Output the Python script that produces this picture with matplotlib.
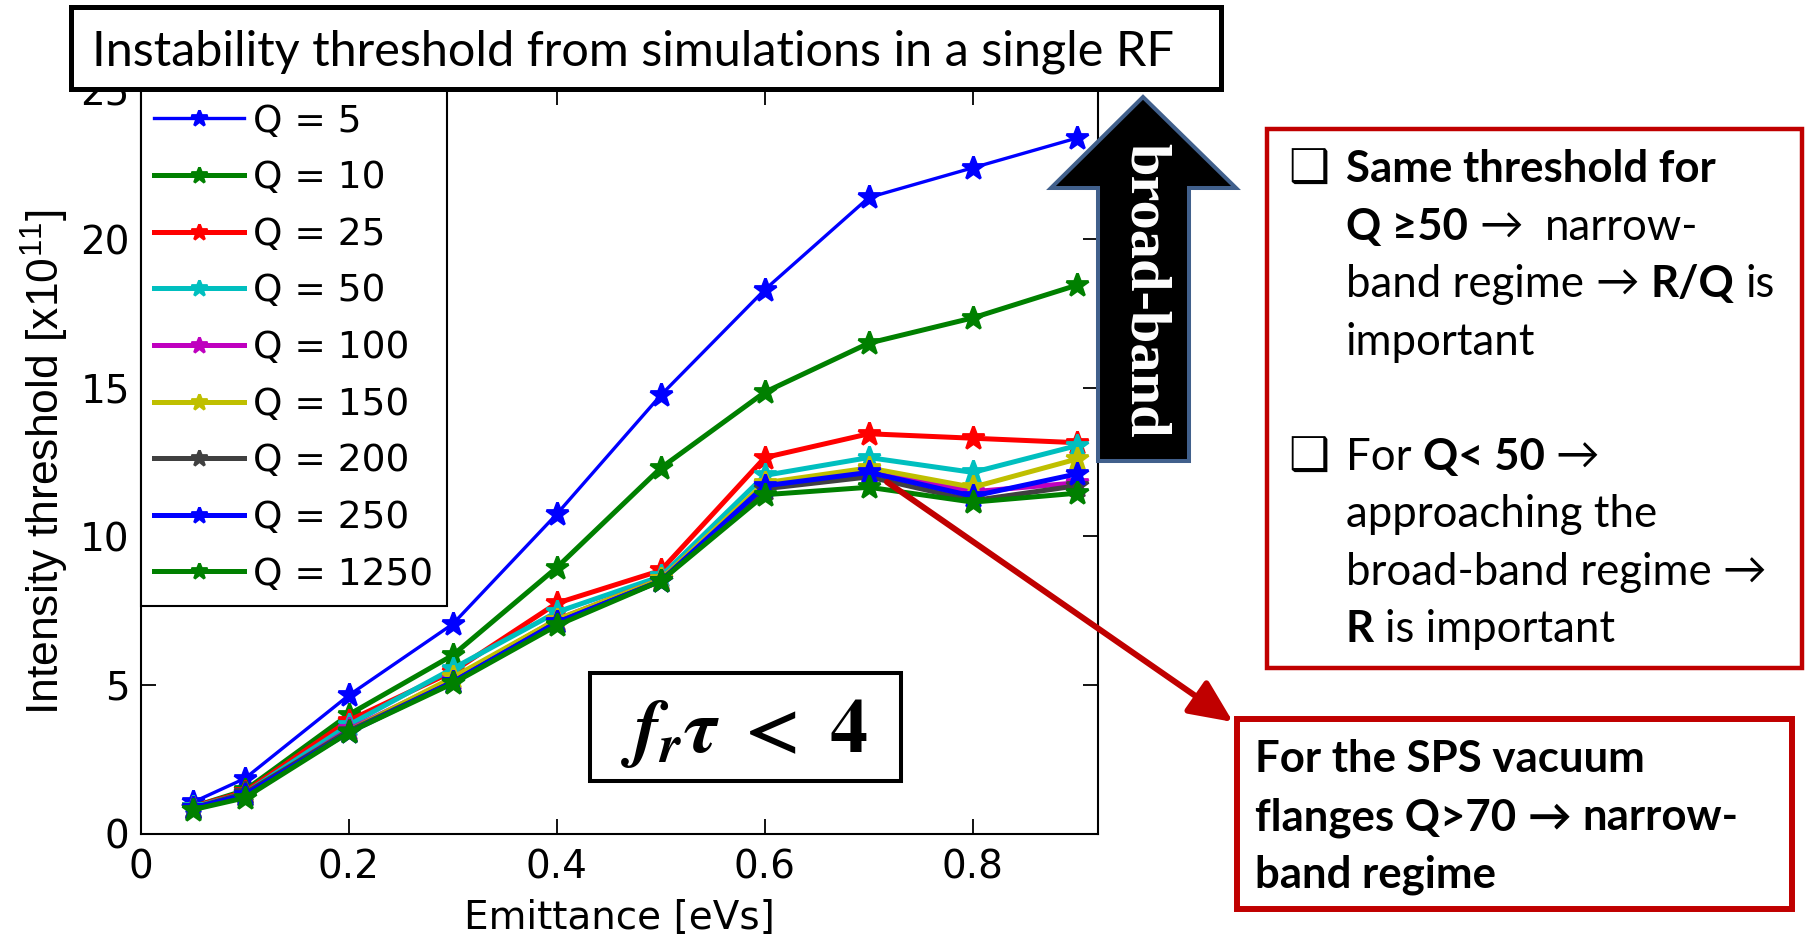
import matplotlib
matplotlib.use("Agg")
import matplotlib.pyplot as plt
from matplotlib.patches import Rectangle, Polygon, FancyArrowPatch

W, H = 1806, 938

# instability threshold [x1e11] vs emittance [eVs] for each resonator Q
emittance = [0.05, 0.1, 0.2, 0.3, 0.4, 0.5, 0.6, 0.7, 0.8, 0.9]
q_labels = ["Q = 5", "Q = 10", "Q = 25", "Q = 50", "Q = 100",
            "Q = 150", "Q = 200", "Q = 250", "Q = 1250"]
thr_q5 = [1.05, 1.85, 4.65, 7.05, 10.75, 14.75, 18.3, 21.4, 22.4, 23.4]
thr_q10 = [0.9, 1.45, 4.0, 6.0, 8.95, 12.3, 14.85, 16.5, 17.35, 18.45]
thr_q25 = [0.9, 1.4, 3.8, 5.45, 7.75, 8.85, 12.65, 13.45, 13.3, 13.15]
thr_q50 = [0.88, 1.35, 3.65, 5.55, 7.45, 8.65, 12.05, 12.65, 12.15, 13.05]
thr_q100 = [0.85, 1.3, 3.5, 5.2, 7.2, 8.55, 11.75, 12.2, 11.5, 11.8]
thr_q150 = [0.85, 1.3, 3.45, 5.25, 7.2, 8.55, 11.8, 12.3, 11.65, 12.6]
thr_q200 = [0.85, 1.35, 3.45, 5.1, 7.1, 8.5, 11.6, 12.0, 11.2, 11.7]
thr_q250 = [0.85, 1.3, 3.4, 5.1, 7.1, 8.5, 11.7, 12.15, 11.35, 12.1]
thr_q1250 = [0.8, 1.2, 3.4, 5.05, 7.0, 8.5, 11.4, 11.65, 11.15, 11.45]
thresholds = [thr_q5, thr_q10, thr_q25, thr_q50, thr_q100,
              thr_q150, thr_q200, thr_q250, thr_q1250]
colors = [(0, 0, 1), (0, 0.5, 0), (1, 0, 0), (0, 0.75, 0.75), (0.75, 0, 0.75),
          (0.75, 0.75, 0), (0.25, 0.25, 0.25), (0, 0, 1), (0, 0.5, 0)]

plt.rcParams["mathtext.fontset"] = "custom"
plt.rcParams["mathtext.it"] = "STIXGeneral:italic:bold"
plt.rcParams["mathtext.rm"] = "STIXGeneral:bold"
plt.rcParams["mathtext.bf"] = "STIXGeneral:bold"

SLIDE = ["Lato", "DejaVu Sans"]
DARKRED = "#C00000"


def fx(x):
    return x / W


def fy(y):
    return 1 - y / H


def box(x0, y0, x1, y1, ec, lw, fc="none", z=2):
    r = Rectangle((fx(x0), fy(y1)), (x1 - x0) / W, (y1 - y0) / H,
                  transform=fig.transFigure, fc=fc, ec=ec, lw=lw, zorder=z)
    fig.add_artist(r)


fig = plt.figure(figsize=(W / 100, H / 100), dpi=100)
ax = fig.add_axes([140.8 / W, 1 - 833.5 / H, (1097.7 - 140.8) / W, (833.5 - 90.5) / H])

for vals, lab, col in zip(thresholds, q_labels, colors):
    lw = 2.4 if lab == "Q = 5" else 3.6
    ax.plot(emittance, vals, "-*", color=col, lw=lw, ms=17, mew=2, label=lab)

ax.set_xlim(0, 0.92)
ax.set_ylim(0, 25)
ax.set_xticks([0, 0.2, 0.4, 0.6, 0.8])
ax.set_xticklabels(["0", "0.2", "0.4", "0.6", "0.8"])
ax.set_yticks([0, 5, 10, 15, 20, 25])
ax.tick_params(direction="in", length=11, width=1.3, top=True, right=True, labelsize=28)
ax.tick_params(axis="x", pad=11)
ax.tick_params(axis="y", pad=8)
for s in ax.spines.values():
    s.set_linewidth(1.5)
ax.set_xlabel("Emittance [eVs]", fontsize=28, labelpad=9)
ax.set_ylabel("Intensity threshold [x10$^{\\mathregular{11}}$]", fontsize=32,
              family="Liberation Sans")
ax.yaxis.set_label_coords(-0.074, 0.5)

leg = ax.legend(loc="upper left", bbox_to_anchor=(0, 1), borderaxespad=0, fontsize=27,
                fancybox=False, edgecolor="k", framealpha=1, labelspacing=0.55,
                handlelength=2.4, handletextpad=0.25, borderpad=0.35, markerscale=0.7)
leg.get_frame().set_linewidth(1.5)

# title box
box(71, 7, 1221, 89, "k", 3.6, fc="white", z=3)
fig.text(fx(92), fy(65), "Instability threshold from simulations in a single RF",
         fontsize=35, family=SLIDE, va="baseline", zorder=4)

# f_r tau < 4 condition
box(590, 673, 901, 781, "k", 2.9, fc="white", z=3)
fig.text(fx(744), fy(752), r"$f_r\tau\;<\;4$", fontsize=55, ha="center", va="baseline",
         zorder=4)

# broad-band arrow
arrow_pts = [(1143, 97), (1236, 188), (1189, 188), (1189, 461),
             (1098, 461), (1098, 188), (1051, 188)]
fig.add_artist(Polygon([(fx(x), fy(y)) for x, y in arrow_pts], closed=True,
                       transform=fig.transFigure, fc="black", ec="#41608C", lw=2.9,
                       zorder=3))
fig.text(fx(1145), fy(290), "broad-band", rotation=270, color="white",
         fontsize=42, fontweight="bold", family="Liberation Serif",
         ha="center", va="center", zorder=4)

# pointer from the Q > 50 cluster to the SPS note
fig.add_artist(FancyArrowPatch((fx(887), fy(482)), (fx(1233), fy(722)),
                               transform=fig.transFigure,
                               arrowstyle="-|>,head_length=1.1,head_width=0.5",
                               mutation_scale=24, color=DARKRED, lw=4.3,
                               shrinkA=0, shrinkB=0, zorder=5))

# red note boxes
box(1267, 129, 1802, 668, DARKRED, 3.2, fc="white", z=3)
box(1237, 719, 1792, 909, DARKRED, 4.3, fc="white", z=3)

renderer = fig.canvas.get_renderer()
TS = 31.5


def text_width(s, bold):
    t = fig.text(0, 0, s, fontsize=TS, family=SLIDE,
                 fontweight="bold" if bold else "normal")
    w = t.get_window_extent(renderer).width
    t.remove()
    return w


space = text_width("x x", False) - text_width("xx", False)


def rich_line(x, y, parts):
    cur = x
    for s, bold, gap in parts:
        cur += gap * space
        t = fig.text(fx(cur), fy(y), s, fontsize=TS, family=SLIDE, va="baseline",
                     fontweight="bold" if bold else "normal", zorder=4)
        cur += t.get_window_extent(renderer).width


upper_lines = [
    (182, [("Same threshold for", True, 0)]),
    (240, [("Q ≥50", True, 0), ("→", False, 1), ("narrow-", False, 2)]),
    (297, [("band regime", False, 0), ("→", False, 1), ("R/Q", True, 1), ("is", False, 1)]),
    (355, [("important", False, 0)]),
    (470, [("For", False, 0), ("Q< 50", True, 1), ("→", False, 1)]),
    (527, [("approaching the", False, 0)]),
    (585, [("broad-band regime", False, 0), ("→", False, 1)]),
    (642, [("R", True, 0), ("is important", False, 1)]),
]
for y, parts in upper_lines:
    rich_line(1346, y, parts)

for y in (182, 470):
    fig.text(fx(1288), fy(y), "❑", fontsize=33, fontweight="bold", family="DejaVu Sans",
             va="baseline", zorder=4)

lower_lines = [
    (772, [("For the SPS vacuum", True, 0)]),
    (830, [("flanges Q>70", True, 0), ("→", True, 1), ("narrow-", True, 1)]),
    (887, [("band regime", True, 0)]),
]
for y, parts in lower_lines:
    rich_line(1255, y, parts)

fig.savefig("out.png", dpi=100, facecolor="white")
